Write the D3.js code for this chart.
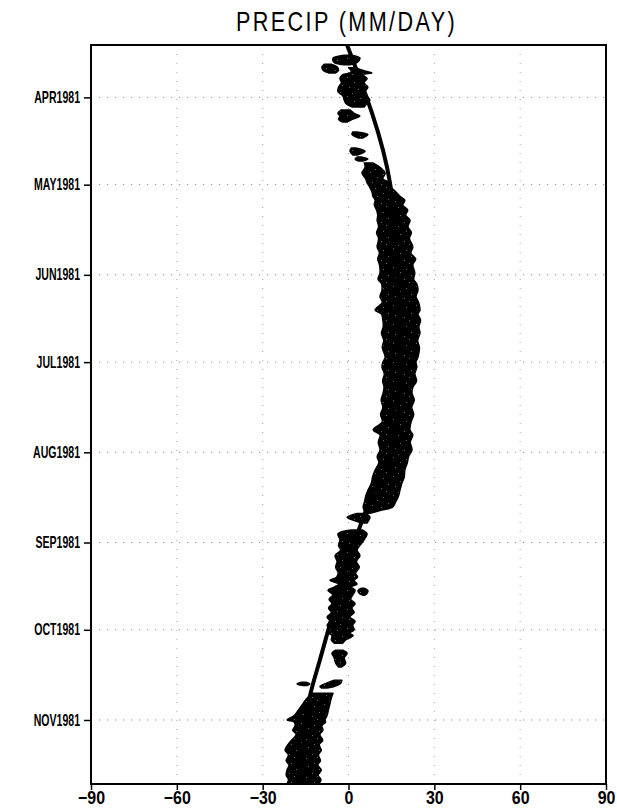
<!DOCTYPE html>
<html><head><meta charset="utf-8">
<script src="https://cdn.jsdelivr.net/npm/d3@7"></script>
<style>
html,body{margin:0;padding:0;background:#fff;}
svg{display:block;}
</style></head><body>
<svg id="chart" width="617" height="812"></svg>
<script>
// ---- axes ----
const latTicks = [-90, -60, -30, 0, 30, 60, 90];
const latGrid = [-60, -30, 0, 30, 60];
const monthTicks = ["1981-04-01", "1981-05-01", "1981-06-01", "1981-07-01",
                    "1981-08-01", "1981-09-01", "1981-10-01", "1981-11-01"];
const monthLabels = ["APR1981", "MAY1981", "JUN1981", "JUL1981",
                     "AUG1981", "SEP1981", "OCT1981", "NOV1981"];
const timeSpan = ["1981-03-14", "1981-11-23"];

// ---- rain band (shaded precip region) ----
// rows: day of year 1981, western and eastern edge latitude; null separates cells
const bandDoy = [
  76.5, 77.5, 79.0, 79.8, null,
  79.6, 80.5, 81.8, 82.6, null,
  80.8, 82.0, 82.6, 83.2, 84.5, 86.0, 87.5, 89.0, 90.5, 92.0, 93.0, 94.3, null,
  95.3, 96.5, 97.4, 98.5, 99.5, null,
  102.9, 103.8, 105.0, null,
  108.4, 109.5, 110.8, null,
  111.5, 112.2, 112.9, null,
  113.5, 115.0, 117.0, 119.0, 120.4, 122.0, 123.5, 125.0, 126.3, 128.0, 129.7, 131.5,
  133.2, 135.5, 137.5, 139.5, 142.4, 144.5, 146.5, 148.5, 151.4, 153.5, 155.0, 157.2,
  159.5, 161.5, 164.1, 165.5, 167.5, 169.9, 172.0, 174.5, 177.0, 180.3, 182.0, 183.7,
  186.0, 188.5, 190.5, 192.6, 195.0, 197.5, 200.0, 202.5, 205.3, 207.0, 209.5, 212.2,
  214.5, 216.5, 219.1, 221.5, 223.5, 226.0, 228.0, 230.0, 231.8, 233.0, 234.0, null,
  234.0, 235.3, 236.5, 237.3, null,
  239.7, 241.0, 243.0, 245.0, 246.6, 248.5, 250.5, 252.5, 254.5, 255.9, 257.0, 258.3,
  259.3, 260.4, 262.0, 263.5, 265.0, 266.5, 268.0, 269.6, 271.0, 272.5, 274.0, 275.1,
  276.0, 277.5, 278.6, null,
  259.7, 260.5, 261.5, 262.1, null,
  281.0, 282.0, 283.7, 285.5, 286.8, null,
  292.0, 292.6, 293.2, null,
  291.3, 292.5, 293.5, 294.0, null,
  295.8, 297.5, 299.5, 301.5, 303.5, 305.0, 305.7, 307.0, 308.5, 310.0, 312.0, 313.5,
  315.4, 317.0, 319.0, 320.5, 322.2, 324.0, 325.5, 327.0
];
const bandWest = [
  -1.5, -5.4, -5.0, -1.0, null,
  -8.5, -9.3, -8.8, -7.0, null,
  0.0, 1.0, 0.5, -2.0, -3.0, -2.5, -3.5, -3.7, -2.0, -1.5, -1.0, 1.2, null,
  -2.5, -3.7, -3.0, -3.5, -2.0, null,
  1.5, 1.2, 3.5, null,
  1.0, 0.5, 1.5, null,
  3.0, 2.3, 3.5, null,
  5.5, 5.8, 4.7, 6.0, 6.5, 7.5, 8.2, 8.5, 9.3, 9.0, 9.8, 10.2,
  10.0, 10.5, 9.8, 10.5, 10.0, 10.8, 10.2, 10.8, 11.0, 10.3, 11.5, 11.7,
  11.0, 11.8, 9.3, 11.5, 12.0, 12.1, 11.5, 12.3, 11.8, 12.8, 12.0, 11.7,
  12.5, 11.9, 12.4, 12.1, 11.4, 12.0, 11.2, 11.8, 8.6, 11.0, 10.4, 11.0,
  10.0, 10.6, 9.3, 8.4, 8.0, 6.8, 6.0, 5.6, 5.1, 5.5, 6.0, null,
  3.0, -0.5, 2.0, 4.5, null,
  1.0, -3.7, -3.0, -3.5, -2.8, -4.7, -4.0, -4.5, -3.6, -4.2, -6.5, -3.5,
  -5.0, -7.2, -5.5, -6.8, -5.8, -7.0, -6.0, -7.5, -6.5, -7.5, -6.0, -7.0,
  -5.8, -6.0, -5.0, null,
  4.5, 3.3, 3.8, 5.0, null,
  -4.5, -5.8, -5.0, -4.5, -3.5, null,
  -16.5, -18.0, -16.0, null,
  -5.0, -8.0, -10.0, -9.5, null,
  -12.5, -14.5, -16.0, -17.5, -19.0, -21.5, -19.0, -18.7, -19.5, -18.3, -20.0, -21.2,
  -22.2, -21.0, -21.8, -20.8, -21.5, -21.8, -21.0, -21.5
];
const bandEast = [
  1.0, 4.0, 3.0, 0.5, null,
  -6.0, -4.0, -3.5, -4.5, null,
  2.5, 6.0, 8.2, 5.0, 6.5, 5.5, 6.8, 5.8, 6.5, 7.5, 6.5, 5.5, null,
  0.5, 2.0, 4.0, 1.5, -0.5, null,
  3.0, 6.8, 5.0, null,
  2.5, 5.8, 3.0, null,
  4.5, 6.8, 5.0, null,
  8.5, 11.0, 12.8, 12.0, 14.5, 15.0, 16.6, 18.0, 19.7, 19.0, 20.7, 20.0,
  21.5, 20.8, 22.0, 21.3, 22.5, 21.8, 23.5, 22.5, 23.2, 22.8, 23.8, 24.3,
  23.6, 24.5, 25.0, 24.3, 25.2, 24.6, 25.0, 24.2, 24.8, 24.3, 23.6, 23.9,
  23.2, 23.8, 22.6, 22.2, 23.0, 22.1, 22.8, 21.9, 21.5, 22.5, 21.6, 22.2,
  21.0, 20.6, 19.7, 19.5, 18.7, 18.0, 17.5, 16.5, 15.5, 11.0, 7.5, null,
  6.0, 7.5, 7.0, 6.5, null,
  5.0, 6.5, 5.5, 4.0, 3.0, 4.0, 2.8, 3.8, 2.5, 3.2, 2.0, 3.0,
  1.0, 2.3, 1.5, 0.8, 2.3, 1.2, 2.0, 0.5, 2.3, 1.5, 2.0, 0.5,
  1.6, -1.0, -2.0, null,
  5.5, 6.8, 6.5, 5.8, null,
  -2.0, -0.5, -1.5, -1.0, -2.5, null,
  -15.0, -13.5, -14.5, null,
  -2.3, -2.8, -5.0, -7.5, null,
  -5.4, -6.0, -6.5, -7.0, -7.5, -8.2, -8.0, -9.3, -8.9, -10.0, -9.0, -10.2,
  -9.5, -10.5, -9.8, -10.7, -9.5, -10.6, -9.6, -10.4
];

// ---- track line drawn over the band ----
const trackDoy = [73, 120.4, 150, 180, 210, 229.4, 284.4, 297, 327];
const trackLat = [-0.5, 14.5, 17, 18, 16, 7.5, -10, -13.5, -16.5];

// ---- layout ----
const W = 617, H = 812;
const margin = {left: 91, right: 11, top: 45, bottom: 28};
const svg = d3.select("#chart");

const parse = d3.timeParse("%Y-%m-%d");
const jan1 = new Date(1981, 0, 1);
const fromDoy = d => new Date(jan1.getTime() + (d - 1) * 864e5);

const x = d3.scaleLinear().domain([-90, 90]).range([margin.left, W - margin.right]);
const y = d3.scaleTime().domain(timeSpan.map(parse)).range([margin.top, H - margin.bottom]);

const defs = svg.append("defs");
defs.append("clipPath").attr("id", "plotClip")
  .append("rect")
  .attr("x", x(-90)).attr("y", y.range()[0])
  .attr("width", x(90) - x(-90)).attr("height", y.range()[1] - y.range()[0]);

// black fill with sparse grey specks
const tileW = 23, tileH = 19;
const specks = [[2, 1], [15, 3], [9, 6], [20, 9], [4, 11], [13, 13], [18, 16], [7, 17]];
const pat = defs.append("pattern").attr("id", "speckle")
  .attr("patternUnits", "userSpaceOnUse").attr("width", tileW).attr("height", tileH);
pat.append("rect").attr("width", tileW).attr("height", tileH).attr("fill", "#000");
specks.forEach(([px, py]) =>
  pat.append("rect").attr("x", px).attr("y", py).attr("width", 1).attr("height", 1)
    .attr("fill", "#6a6a6a"));

// ---- grid ----
const grid = svg.append("g");
grid.selectAll("line.h").data(monthTicks).join("line")
  .attr("x1", x(-90)).attr("x2", x(90))
  .attr("y1", d => y(parse(d))).attr("y2", d => y(parse(d)))
  .attr("stroke", "#8a8a8a").attr("stroke-width", 1)
  .attr("stroke-dasharray", "1.2,6.8");
grid.selectAll("line.v").data(latGrid).join("line")
  .attr("x1", d => x(d)).attr("x2", d => x(d))
  .attr("y1", y.range()[0]).attr("y2", y.range()[1])
  .attr("stroke", "#a5a5a5").attr("stroke-width", 1)
  .attr("stroke-dasharray", "1,8");

// ---- band ----
const rows = bandDoy.map((d, i) => ({doy: d, w: bandWest[i], e: bandEast[i]}));
const area = d3.area()
  .defined(d => d.doy != null)
  .y(d => y(fromDoy(d.doy)))
  .x0(d => x(d.w))
  .x1(d => x(d.e))
  .curve(d3.curveCatmullRom.alpha(0.5));

const plot = svg.append("g").attr("clip-path", "url(#plotClip)");
plot.append("path").datum(rows)
  .attr("d", area)
  .attr("fill", "url(#speckle)")
  .attr("stroke", "#000").attr("stroke-width", 1.4).attr("stroke-linejoin", "round");

// ---- track ----
const track = trackDoy.map((d, i) => ({doy: d, lat: trackLat[i]}));
plot.append("path").datum(track)
  .attr("d", d3.line().x(d => x(d.lat)).y(d => y(fromDoy(d.doy))).curve(d3.curveMonotoneY))
  .attr("fill", "none").attr("stroke", "#000").attr("stroke-width", 4);

// ---- axes ----
const labelFont = "'Liberation Sans', Arial, sans-serif";
const ySqueeze = 0.66, xSqueeze = 0.84;

const yAxis = d3.axisLeft(y)
  .tickValues(monthTicks.map(parse))
  .tickFormat((d, i) => monthLabels[i])
  .tickSize(7).tickPadding(4);
const gy = svg.append("g").attr("transform", `translate(${x(-90)},0)`).call(yAxis);
gy.select(".domain").remove();
gy.selectAll(".tick line").attr("stroke", "#000").attr("stroke-width", 1.5);
gy.selectAll(".tick text")
  .style("font-family", labelFont).style("font-size", "16px").style("font-weight", "bold")
  .attr("fill", "#000")
  .attr("x", -11 / ySqueeze)
  .attr("transform", `scale(${ySqueeze},1)`);

const xAxis = d3.axisBottom(x)
  .tickValues(latTicks)
  .tickFormat(d => d < 0 ? "\u2212" + Math.abs(d) : String(d))
  .tickSize(6).tickPadding(1);
const gx = svg.append("g").attr("transform", `translate(0,${y.range()[1]})`).call(xAxis);
gx.select(".domain").remove();
gx.selectAll(".tick line").attr("stroke", "#000").attr("stroke-width", 1.5);
gx.selectAll(".tick text")
  .style("font-family", labelFont).style("font-size", "19px").style("font-weight", "bold")
  .attr("fill", "#000")
  .attr("transform", `scale(${xSqueeze},1)`);

// frame
svg.append("rect")
  .attr("x", x(-90)).attr("y", y.range()[0])
  .attr("width", x(90) - x(-90)).attr("height", y.range()[1] - y.range()[0])
  .attr("fill", "none").attr("stroke", "#000").attr("stroke-width", 2);

// title
const tx = (x(-90) + x(90)) / 2 - 2, tSqueeze = 0.8;
svg.append("text")
  .attr("x", tx / tSqueeze).attr("y", 31)
  .attr("transform", `scale(${tSqueeze},1)`)
  .attr("text-anchor", "middle")
  .style("font-family", labelFont).style("font-size", "27px")
  .style("letter-spacing", "3px")
  .text("PRECIP (MM/DAY)");
</script>
</body></html>
